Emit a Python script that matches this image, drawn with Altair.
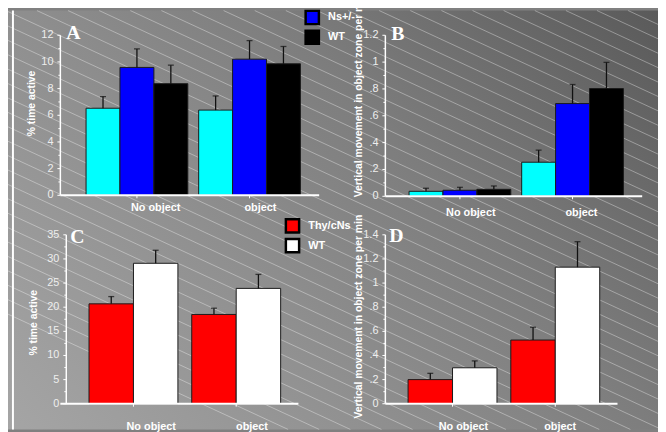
import altair as alt
import pandas as pd

# ---------------- data ----------------
conds = ["No object", "object"]
geno_top = ["Ns-/-", "Ns+/-", "WT"]
geno_bot = ["Thy/cNs", "WT"]
col_top = ["#00ffff", "#0000ff", "#000000"]
col_bot = ["#ff0000", "#ffffff"]

a_mean = [6.53, 9.59, 8.37, 6.39, 10.21, 9.86]
a_sem = [0.87, 1.39, 1.39, 1.06, 1.39, 1.30]
b_mean = [0.037, 0.045, 0.052, 0.254, 0.691, 0.803]
b_sem = [0.023, 0.022, 0.025, 0.090, 0.142, 0.195]
c_mean = [20.7, 29.1, 18.5, 23.9]
c_sem = [1.5, 2.7, 1.3, 2.9]
d_mean = [0.200, 0.298, 0.528, 1.132]
d_sem = [0.052, 0.057, 0.106, 0.211]

a_major = [0, 2, 4, 6, 8, 10, 12]
a_labels = ["0", "2", "4", "6", "8", "10", "12"]
a_minor = [1, 3, 5, 7, 9, 11]
b_major = [0, 0.2, 0.4, 0.6, 0.8, 1.0, 1.2]
b_labels = ["0", ".2", ".4", ".6", ".8", "1", "1.2"]
b_minor = [0.1, 0.3, 0.5, 0.7, 0.9, 1.1]
c_major = [0, 5, 10, 15, 20, 25, 30, 35]
c_labels = ["0", "5", "10", "15", "20", "25", "30", "35"]
c_minor = [2.5, 7.5, 12.5, 17.5, 22.5, 27.5, 32.5]
d_major = [0, 0.2, 0.4, 0.6, 0.8, 1.0, 1.2, 1.4]
d_labels = ["0", ".2", ".4", ".6", ".8", "1", "1.2", "1.4"]
d_minor = [0.1, 0.3, 0.5, 0.7, 0.9, 1.1, 1.3]

title_pct = "% time active"
title_vert = "Vertical movement in object zone per min"


def make_df(mean, sem, genos):
    rows = []
    i = 0
    for c in conds:
        for g in genos:
            rows.append({"cond": c, "geno": g, "mean": mean[i], "hi": mean[i] + sem[i]})
            i += 1
    return pd.DataFrame(rows)


# ---------------- page geometry ----------------
W, H = 658, 424          # whole chart
AX, AY = 53, 25          # panel A view origin inside chart
E = 60                   # overscan, clipped by negative padding

FONT = "Liberation Sans"
one = pd.DataFrame({"k": [0]})


def stripes_df():
    slope, spacing, phase = 0.463, 31.5, 587.0
    rows = []
    for k in range(-40, 40):
        c = phase + k * spacing
        x_top = c - 8 + 8 / slope
        x_bot = c - 8 + (H + 8) / slope
        xa, xb = max(x_top, 0.0), min(x_bot, float(W))
        if xb <= xa:
            continue
        ya = slope * (xa + 8 - c) - 8
        yb = slope * (xb + 8 - c) - 8
        rows.append({"sx1": xa - AX, "sx2": xb - AX, "sy1": ya - AY, "sy2": yb - AY})
    return pd.DataFrame(rows)


def panel(df, genos, colors, ydom, major, labels, minor, title,
          title_x, title_y, title_align, letter, lx, ly, width, height,
          pi, po, al, lab_off, lab_y, legend, ax0=0):
    xscale = alt.Scale(domain=conds, paddingInner=pi, paddingOuter=po, align=al)
    yscale = alt.Scale(domain=ydom, nice=False, zero=True)
    xo = alt.XOffset("geno:N", sort=genos,
                     scale=alt.Scale(domain=genos, paddingInner=0, paddingOuter=0))
    xn = alt.X("cond:N", sort=conds, axis=None, scale=xscale)
    color = alt.Color("geno:N", sort=genos, scale=alt.Scale(domain=genos, range=colors),
                      legend=legend)
    base = alt.Chart(df)
    bars = base.mark_bar(stroke="#1a1a1a", strokeWidth=1, opacity=1).encode(
        x=xn, xOffset=xo, y=alt.Y("mean:Q", scale=yscale, axis=None), color=color)
    err = base.mark_rule(color="#111111", strokeWidth=1.3).encode(
        x=xn, xOffset=xo, y=alt.Y("mean:Q", axis=None, scale=yscale), y2="hi:Q")
    cap = base.mark_tick(color="#111111", thickness=1.3, size=6).encode(
        x=xn, xOffset=xo, y=alt.Y("hi:Q", axis=None, scale=yscale))

    # --- hand-drawn axes ---
    maj_df = pd.DataFrame({"v": major, "lab": labels})
    ydomain = alt.Chart(one).mark_rule(color="white", strokeWidth=1.5).encode(
        x=alt.value(ax0), y=alt.value(0), y2=alt.value(height))
    xdomain = alt.Chart(one).mark_rule(color="white", strokeWidth=2).encode(
        x=alt.value(0), x2=alt.value(width), y=alt.value(height))
    ymaj = alt.Chart(maj_df).mark_rule(color="white", strokeWidth=1).encode(
        y=alt.Y("v:Q", axis=None, scale=yscale), x=alt.value(ax0 - 3), x2=alt.value(ax0))
    ymin = alt.Chart(pd.DataFrame({"v": minor})).mark_rule(color="white", strokeWidth=1).encode(
        y=alt.Y("v:Q", axis=None, scale=yscale), x=alt.value(ax0 - 2), x2=alt.value(ax0))
    ylab = alt.Chart(maj_df).mark_text(align="right", baseline="middle", fontSize=11,
                                       font=FONT, color="#eeeeee").encode(
        y=alt.Y("v:Q", axis=None, scale=yscale), x=alt.value(ax0 - 7), text="lab:N")
    xtick = alt.Chart(pd.DataFrame({"cond": conds})).mark_rule(
        color="white", strokeWidth=1).encode(
        x=xn, y=alt.value(height), y2=alt.value(height + 3))
    xlabs = []
    for c, off in zip(conds, lab_off):
        xlabs.append(alt.Chart(pd.DataFrame({"cond": [c]})).mark_text(
            dx=off, baseline="middle", align="center", fontSize=11, fontWeight="bold",
            font=FONT, color="white").encode(
            x=xn, y=alt.value(height + lab_y), text="cond:N"))
    ytitle = alt.Chart(pd.DataFrame({"t": [title]})).mark_text(
        angle=270, align=title_align, baseline="middle", fontSize=10.5, fontWeight="bold",
        font=FONT, color="white").encode(
        text="t:N", x=alt.value(ax0 + title_x), y=alt.value(title_y))
    let = alt.Chart(pd.DataFrame({"t": [letter]})).mark_text(
        font="Liberation Serif", fontWeight="bold", fontSize=20, align="left",
        baseline="alphabetic", color="white").encode(
        text="t:N", x=alt.value(lx), y=alt.value(ly))
    return alt.layer(bars, err, cap, xdomain, ydomain, ymaj, ymin, ylab, xtick,
                     *xlabs, ytitle, let)


leg_common = dict(orient="none", title=None, symbolType="square", symbolSize=180,
                  symbolStrokeColor="black", symbolStrokeWidth=2.5, symbolOpacity=1,
                  labelColor="white", labelFont=FONT, labelFontWeight="bold",
                  labelFontSize=11, rowPadding=-4, labelOffset=8, padding=0)

inner_a = panel(make_df(a_mean, a_sem, geno_top), geno_top, col_top, [0, 12],
                a_major, a_labels, a_minor, title_pct, -29, 69, "center", "A", 6, 4, 262, 162,
                0.0965, 0.1974, 0.578, (19, 11), 13,
                alt.Legend(legendX=247, legendY=-46, **leg_common))

gradient = {"gradient": "linear", "x1": 0, "y1": 1, "x2": 1.18, "y2": 0.307,
            "stops": [{"offset": 0, "color": "#a5a5a5"},
                      {"offset": 0.37, "color": "#8f8f8f"},
                      {"offset": 0.63, "color": "#7d7d7d"},
                      {"offset": 1, "color": "#5a5a5a"}]}
bg_big = alt.Chart(one).mark_rect(opacity=0).encode(
    x=alt.value(-AX - E), x2=alt.value(W - AX + E), y=alt.value(-AY - E), y2=alt.value(H - AY + E))
bg = alt.Chart(one).mark_rect(color=gradient).encode(
    x=alt.value(-AX), x2=alt.value(W - AX), y=alt.value(-AY), y2=alt.value(H - AY))
stripes = alt.Chart(stripes_df()).mark_rule(color="white", opacity=0.36, strokeWidth=1).encode(
    x=alt.X("sx1:Q", scale=None, axis=None), x2="sx2:Q",
    y=alt.Y("sy1:Q", scale=None, axis=None), y2="sy2:Q")
vline = alt.Chart(one).mark_rule(color="white", strokeWidth=2).encode(
    x=alt.value(5 - AX), y=alt.value(-AY), y2=alt.value(H - AY))

A = alt.layer(bg_big, bg, stripes, vline, inner_a).resolve_scale(
    x="independent", y="independent").properties(width=262, height=162)

B = panel(make_df(b_mean, b_sem, geno_top), geno_top, col_top, [0, 1.2],
          b_major, b_labels, b_minor, title_vert, -27, 164, "left", "B", 6, 5, 260, 163,
          0.0965, 0.1886, 0.558, (11, 9), 17, None).properties(width=260, height=163)

C = panel(make_df(c_mean, c_sem, geno_bot), geno_bot, col_bot, [0, 35],
          c_major, c_labels, c_minor, title_pct, -33, 89, "center", "C", 10, 8, 241, 171,
          0.1346, 0.226, 0.617, (18, 16), 24,
          alt.Legend(legendX=227, legendY=-17, **leg_common), ax0=6).properties(
    width=241, height=171)

D = panel(make_df(d_mean, d_sem, geno_bot), geno_bot, col_bot, [0, 1.4],
          d_major, d_labels, d_minor, title_vert, -27, 186, "left", "D", 4, 7, 235, 171,
          0.1346, 0.197, 0.561, (11, 5), 24, None).properties(width=235, height=171)

chart = alt.concat(A, B, C, D, columns=2, bounds="flush",
                   spacing={"row": 39, "column": 67}).resolve_scale(
    color="independent", xOffset="independent").properties(
    padding={"left": -E, "top": -E, "right": -E, "bottom": -E},
    background="#808080").configure_view(stroke=None)

chart.save("out.html", embed_options={"renderer": "svg", "actions": False})
